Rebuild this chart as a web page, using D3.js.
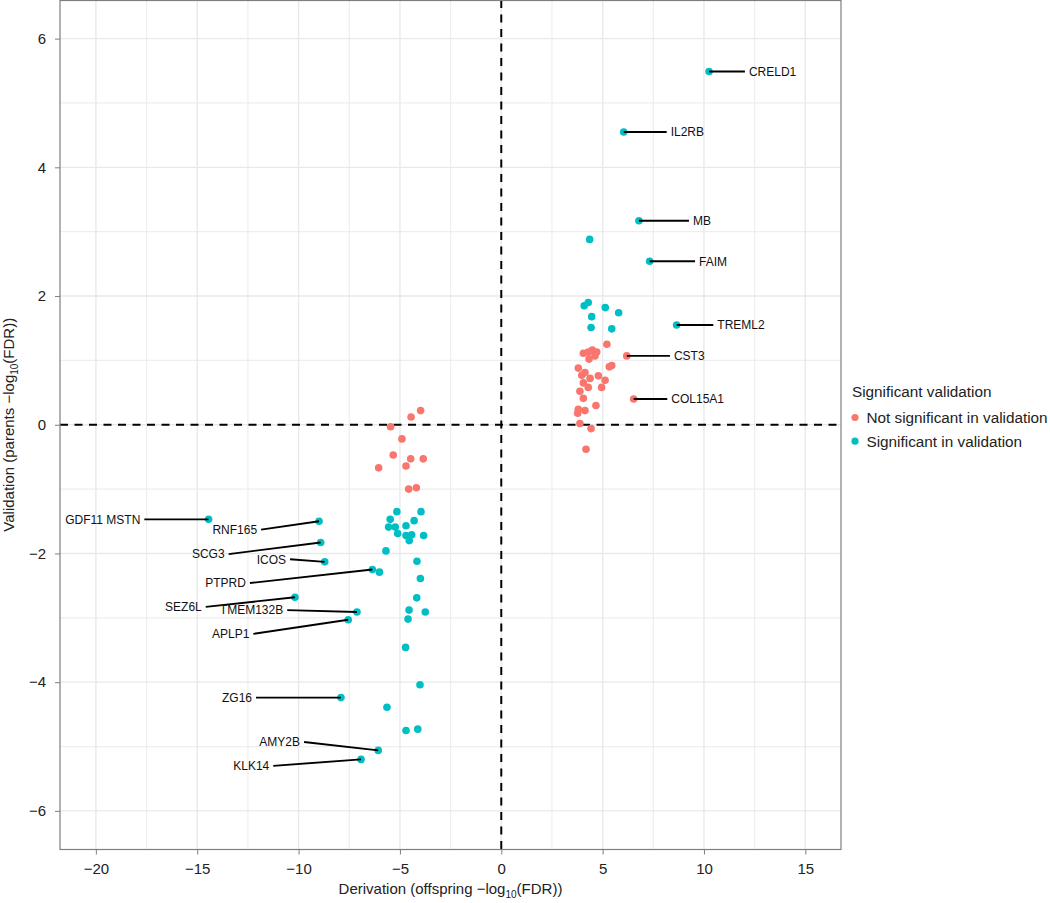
<!DOCTYPE html>
<html>
<head>
<meta charset="utf-8">
<script src="https://cdn.jsdelivr.net/npm/d3@7"></script>
<style>
  html, body { margin: 0; padding: 0; background: #fff; }
  svg { display: block; font-family: "Liberation Sans", Arial, Helvetica, sans-serif; }
</style>
</head>
<body>
<svg id="chart" width="1050" height="903"></svg>
<script>
// ---------------- data ----------------
// Not significant in validation
const notSigX = [6.19, 6.53, 5.21, 4.05, 4.29, 4.49, 4.71, 4.62, 4.33, 5.45, 5.33, 3.80, 4.13, 3.97, 4.38, 4.79, 5.12, 4.05, 4.29, 4.95, 3.88, 4.05, 4.67, 3.80, 4.13, 3.77, 3.88, 4.43, 4.18,
  -3.98, -4.45, -5.46, -4.90, -5.33, -4.47, -3.85, -4.70, -6.05, -4.57, -4.19];
const notSigY = [1.07, 0.40, 1.25, 1.11, 1.13, 1.16, 1.13, 1.07, 1.02, 0.92, 0.90, 0.88, 0.81, 0.77, 0.72, 0.76, 0.69, 0.65, 0.58, 0.58, 0.52, 0.41, 0.30, 0.24, 0.22, 0.18, 0.02, -0.06, -0.38,
  0.22, 0.12, -0.03, -0.22, -0.47, -0.53, -0.53, -0.64, -0.67, -1.00, -0.98];

// Significant in validation
const sigX = [10.25, 6.04, 6.79, 7.32, 4.36, 8.65, 4.09, 4.29, 5.13, 5.79, 4.46, 4.43, 5.45,
  -5.15, -3.96, -5.48, -4.30, -5.56, -5.23, -4.70, -5.11, -4.70, -4.42, -4.54, -3.83, -5.69, -4.16, -6.01, -3.99, -4.17, -4.55, -3.75, -4.60, -4.72, -4.01, -5.64, -4.70, -4.12,
  -14.44, -8.99, -8.91, -8.71, -6.36, -10.18, -7.12, -7.55, -7.91, -6.07, -6.92];
const sigY = [5.49, 4.55, 3.17, 2.54, 2.88, 1.55, 1.85, 1.90, 1.82, 1.74, 1.68, 1.51, 1.49,
  -1.35, -1.35, -1.47, -1.49, -1.59, -1.59, -1.57, -1.69, -1.72, -1.71, -1.80, -1.72, -1.96, -2.12, -2.29, -2.39, -2.69, -2.88, -2.91, -3.02, -3.46, -4.04, -4.39, -4.75, -4.73,
  -1.47, -1.50, -1.83, -2.13, -2.25, -2.68, -2.91, -3.03, -4.24, -5.06, -5.20];

// Labelled genes: point coordinates and repelled label anchor (data units)
const geneNames  = ["CRELD1", "IL2RB", "MB", "FAIM", "TREML2", "CST3", "COL15A1",
  "GDF11 MSTN", "RNF165", "SCG3", "ICOS", "PTPRD", "SEZ6L", "TMEM132B", "APLP1", "ZG16", "AMY2B", "KLK14"];
const genePointX = [10.25, 6.04, 6.79, 7.32, 8.65, 6.19, 6.53,
  -14.44, -8.99, -8.91, -8.71, -6.36, -10.18, -7.12, -7.55, -7.91, -6.07, -6.92];
const genePointY = [5.49, 4.55, 3.17, 2.54, 1.55, 1.07, 0.40,
  -1.47, -1.50, -1.83, -2.13, -2.25, -2.68, -2.91, -3.03, -4.24, -5.06, -5.20];
const geneLabelX = [12.02, 8.16, 9.26, 9.56, 10.46, 8.32, 8.19,
  -17.61, -11.85, -13.45, -10.42, -12.40, -14.58, -10.56, -12.23, -12.10, -9.73, -11.25];
const geneLabelY = [5.49, 4.55, 3.17, 2.54, 1.55, 1.07, 0.40,
  -1.47, -1.63, -2.01, -2.09, -2.46, -2.83, -2.88, -3.25, -4.24, -4.93, -5.30];

const xTicks = [-20, -15, -10, -5, 0, 5, 10, 15];
const xMinor = [-17.5, -12.5, -7.5, -2.5, 2.5, 7.5, 12.5];
const yTicks = [-6, -4, -2, 0, 2, 4, 6];
const yMinor = [-5, -3, -1, 1, 3, 5];

const groups = ["Not significant in validation", "Significant in validation"];
const groupColors = ["#F8766D", "#00BFC4"];

// ---------------- layout ----------------
const svg = d3.select("#chart");
const panel = { left: 60, right: 841, top: 0, bottom: 849.5 };
const x = d3.scaleLinear().domain([-21.77, 16.76]).range([panel.left, panel.right]);
const y = d3.scaleLinear().domain([-6.6, 6.6]).range([panel.bottom, panel.top]);
const color = d3.scaleOrdinal().domain(groups).range(groupColors);

const g = svg.append("g");

// grid
g.append("g").selectAll("line").data(xMinor).join("line")
  .attr("x1", d => x(d)).attr("x2", d => x(d)).attr("y1", panel.top).attr("y2", panel.bottom)
  .attr("stroke", "#eeeeee").attr("stroke-width", 1.2);
g.append("g").selectAll("line").data(yMinor).join("line")
  .attr("y1", d => y(d)).attr("y2", d => y(d)).attr("x1", panel.left).attr("x2", panel.right)
  .attr("stroke", "#eeeeee").attr("stroke-width", 1.2);
g.append("g").selectAll("line").data(xTicks).join("line")
  .attr("x1", d => x(d)).attr("x2", d => x(d)).attr("y1", panel.top).attr("y2", panel.bottom)
  .attr("stroke", "#e9e9e9").attr("stroke-width", 1.4);
g.append("g").selectAll("line").data(yTicks).join("line")
  .attr("y1", d => y(d)).attr("y2", d => y(d)).attr("x1", panel.left).attr("x2", panel.right)
  .attr("stroke", "#e9e9e9").attr("stroke-width", 1.4);

// reference dashed lines
g.append("line").attr("x1", x(0)).attr("x2", x(0)).attr("y1", panel.top).attr("y2", panel.bottom)
  .attr("stroke", "#000").attr("stroke-width", 2).attr("stroke-dasharray", "8,6.5");
g.append("line").attr("y1", y(0)).attr("y2", y(0)).attr("x1", panel.left).attr("x2", panel.right)
  .attr("stroke", "#000").attr("stroke-width", 2).attr("stroke-dasharray", "8,6.5");

// points
const pts = [];
notSigX.forEach((v, i) => pts.push({ x: v, y: notSigY[i], grp: groups[0] }));
sigX.forEach((v, i) => pts.push({ x: v, y: sigY[i], grp: groups[1] }));
g.append("g").selectAll("circle").data(pts).join("circle")
  .attr("cx", d => x(d.x)).attr("cy", d => y(d.y)).attr("r", 3.8)
  .attr("fill", d => color(d.grp));

// label segments + text
const labs = geneNames.map((n, i) => ({ name: n, px: genePointX[i], py: genePointY[i], lx: geneLabelX[i], ly: geneLabelY[i] }));
g.append("g").selectAll("line").data(labs).join("line")
  .attr("x1", d => x(d.px)).attr("y1", d => y(d.py))
  .attr("x2", d => x(d.lx)).attr("y2", d => y(d.ly))
  .attr("stroke", "#000").attr("stroke-width", 1.9);
g.append("g").selectAll("text").data(labs).join("text")
  .attr("x", d => d.lx > d.px ? x(d.lx) + 4 : x(d.lx) - 4)
  .attr("y", d => y(d.ly))
  .attr("dy", "0.36em")
  .attr("text-anchor", d => d.lx > d.px ? "start" : "end")
  .attr("font-size", 12).attr("fill", "#111")
  .text(d => d.name);

// panel border
g.append("rect").attr("x", panel.left).attr("y", panel.top + 0.5)
  .attr("width", panel.right - panel.left).attr("height", panel.bottom - panel.top - 0.5)
  .attr("fill", "none").attr("stroke", "#7f7f7f").attr("stroke-width", 1.2);

// axes
const xAxis = d3.axisBottom(x).tickValues(xTicks).tickSize(5).tickPadding(9)
  .tickFormat(d => d < 0 ? "\u2212" + Math.abs(d) : String(d));
const xa = svg.append("g").attr("transform", `translate(0,${panel.bottom})`).call(xAxis);
xa.select(".domain").remove();
xa.selectAll("line").attr("stroke", "#7f7f7f");
xa.selectAll("text").attr("font-size", 15).attr("fill", "#222").attr("font-family", "Liberation Sans, Arial, sans-serif");

const yAxis = d3.axisLeft(y).tickValues(yTicks).tickSize(5).tickPadding(9)
  .tickFormat(d => d < 0 ? "\u2212" + Math.abs(d) : String(d));
const ya = svg.append("g").attr("transform", `translate(${panel.left},0)`).call(yAxis);
ya.select(".domain").remove();
ya.selectAll("line").attr("stroke", "#7f7f7f");
ya.selectAll("text").attr("font-size", 15).attr("fill", "#222").attr("font-family", "Liberation Sans, Arial, sans-serif");

// axis titles
const xt = svg.append("text").attr("x", (panel.left + panel.right) / 2).attr("y", 894)
  .attr("text-anchor", "middle").attr("font-size", 15).attr("fill", "#222");
xt.append("tspan").text("Derivation (offspring \u2212log");
xt.append("tspan").attr("font-size", 10).attr("dy", 4).text("10");
xt.append("tspan").attr("dy", -4).text("(FDR))");

const yt = svg.append("text")
  .attr("transform", `translate(14,${(panel.top + panel.bottom) / 2}) rotate(-90)`)
  .attr("text-anchor", "middle").attr("font-size", 15).attr("fill", "#222");
yt.append("tspan").text("Validation (parents \u2212log");
yt.append("tspan").attr("font-size", 10).attr("dy", 4).text("10");
yt.append("tspan").attr("dy", -4).text("(FDR))");

// legend
const leg = svg.append("g").attr("transform", "translate(852,0)");
leg.append("text").attr("x", 0).attr("y", 392).attr("dy", "0.35em")
  .attr("font-size", 15.3).attr("fill", "#222").text("Significant validation");
groups.forEach((gr, i) => {
  leg.append("circle").attr("cx", 3).attr("cy", 417.5 + i * 23.7).attr("r", 3.6).attr("fill", color(gr));
  leg.append("text").attr("x", 14.5).attr("y", 417.5 + i * 23.7).attr("dy", "0.35em")
    .attr("font-size", 15.3).attr("fill", "#222").text(gr);
});
</script>
</body>
</html>
